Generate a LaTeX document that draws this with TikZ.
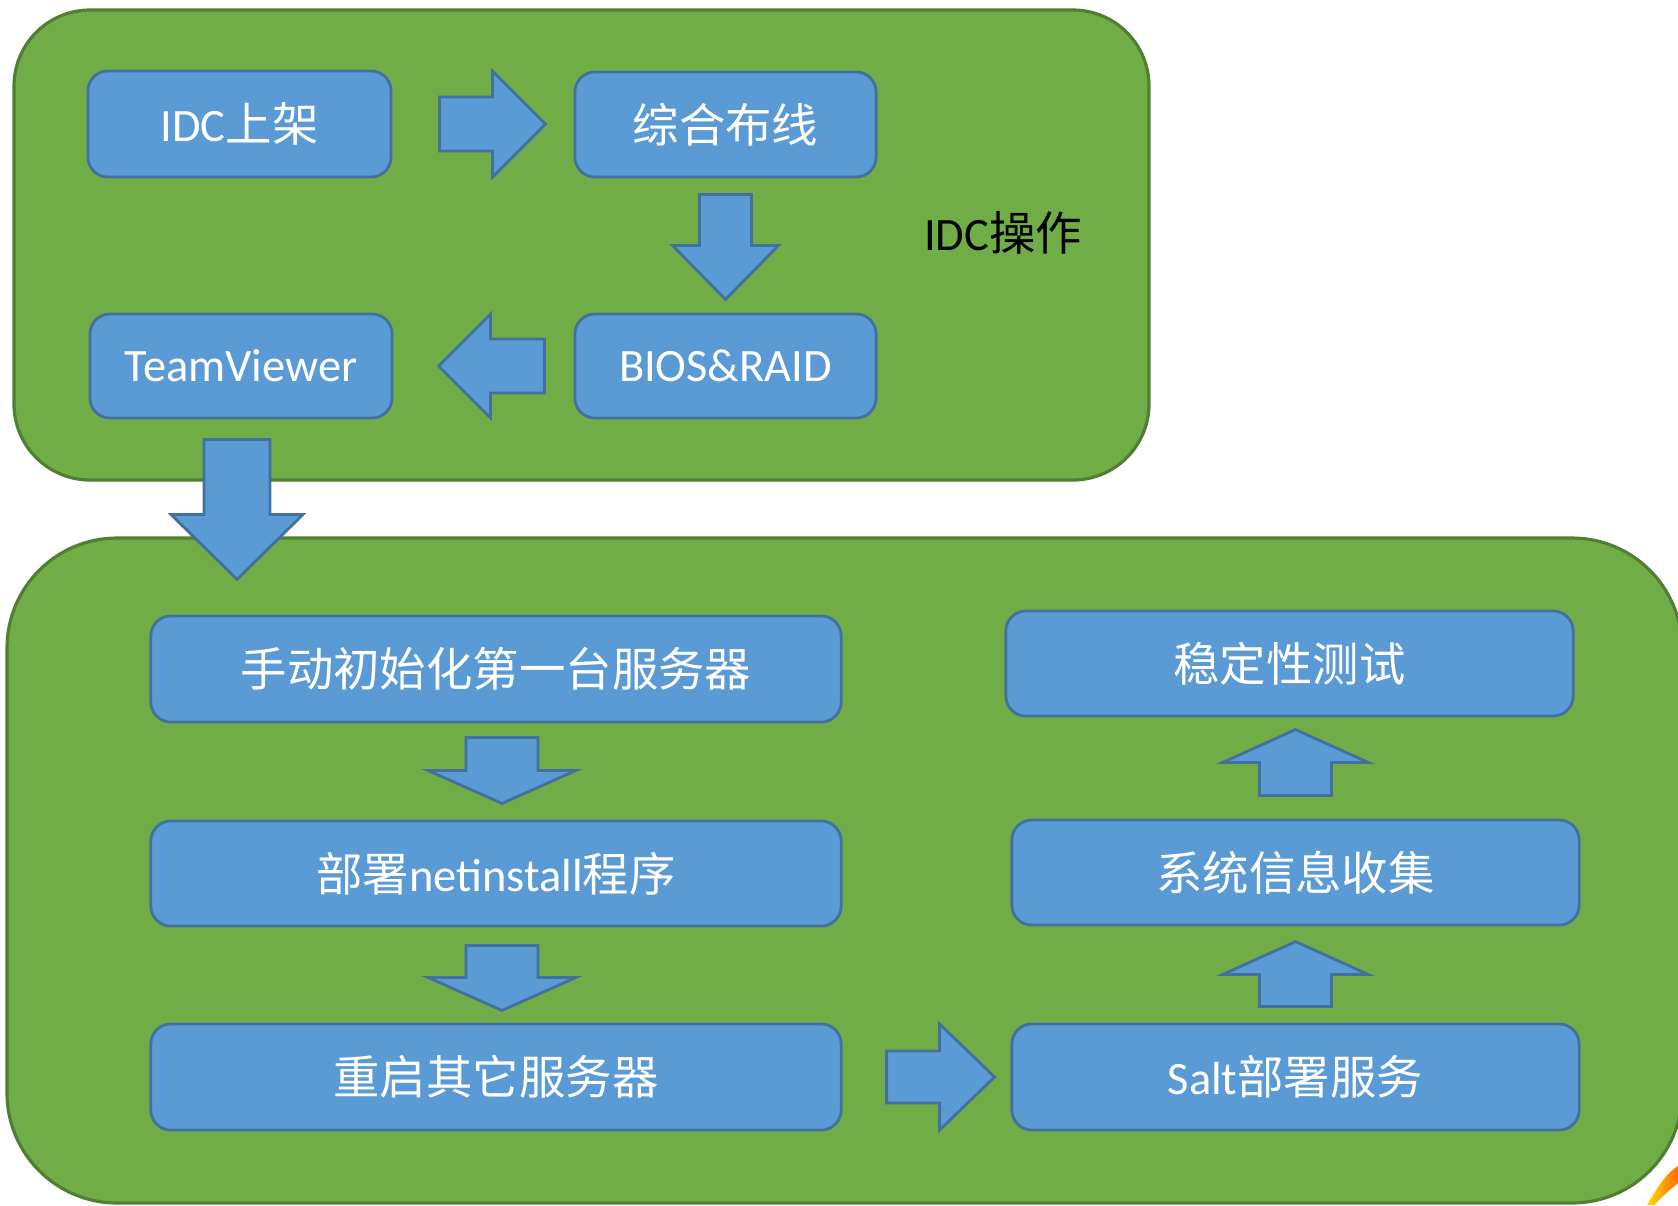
\documentclass[tikz,border=0pt]{standalone}
\usepackage{fontspec}
\setmainfont{Carlito}
\newfontfamily\cjk{Noto Sans CJK SC}
\usetikzlibrary{calc}
\definecolor{grpgreen}{HTML}{70AD47}
\definecolor{grpedge}{HTML}{507E32}
\definecolor{boxblue}{HTML}{5B9BD5}
\definecolor{boxedge}{HTML}{41719C}

\begin{document}
\begin{tikzpicture}[x=0.01cm,y=-0.01cm,
    groupbox/.style={fill=grpgreen,draw=grpedge,line width=0.9pt},
    procbox/.style={fill=boxblue,draw=boxedge,line width=0.8pt,rounded corners=0.2cm,
      text=white,font=\fontsize{13.2pt}{16pt}\selectfont,inner sep=0pt},
    blockarrow/.style={fill=boxblue,draw=boxedge,line width=0.8pt,line join=miter}]
    \useasboundingbox (0,0) rectangle (1678,1205);
    % the two groups
    \draw [groupbox,rounded corners=0.76cm] (14,10) rectangle (1149,480);
    \draw [groupbox,rounded corners=1.1cm] (7,538) rectangle (1682,1203);
    \node [font=\fontsize{13.2pt}{16pt}\selectfont] (idcop) at (1003,233) {IDC{\cjk 操作}};
    % IDC steps
    \node [procbox,minimum width=3.03cm,minimum height=1.06cm] (idc) at (239.5,124) {IDC{\cjk 上架}};
    \node [procbox,minimum width=3.01cm,minimum height=1.05cm] (zhbx) at (725.5,124.5) {{\cjk 综合布线}};
    \node [procbox,minimum width=3.01cm,minimum height=1.04cm] (bios) at (725.5,366) {BIOS\&RAID};
    \node [procbox,minimum width=3.02cm,minimum height=1.04cm] (tv) at (241,366) {TeamViewer};
    % install steps
    \node [procbox,minimum width=6.9cm,minimum height=1.06cm] (m1) at (496,669) {{\cjk 手动初始化第一台服务器}};
    \node [procbox,minimum width=6.9cm,minimum height=1.05cm] (m2) at (496,873.5) {{\cjk 部署}netinstall{\cjk 程序}};
    \node [procbox,minimum width=6.9cm,minimum height=1.06cm] (m3) at (496,1077) {{\cjk 重启其它服务器}};
    \node [procbox,minimum width=5.67cm,minimum height=1.05cm] (r1) at (1289.5,663.5) {{\cjk 稳定性测试}};
    \node [procbox,minimum width=5.67cm,minimum height=1.05cm] (r2) at (1295.5,872.5) {{\cjk 系统信息收集}};
    \node [procbox,minimum width=5.67cm,minimum height=1.06cm] (r3) at (1295.5,1077) {Salt{\cjk 部署服务}};
    % block arrows
    \draw [blockarrow] ($(idc.east)+(47,-27)$) -- ++(53,0) -- ++(0,-26) -- ++(53,53)
      -- ++(-53,53) -- ++(0,-26) -- ++(-53,0) -- cycle;
    \draw [blockarrow] ($(zhbx.south)+(-26,16)$) -- ++(0,51) -- ++(-27,0) -- ++(53,54)
      -- ++(53,-54) -- ++(-27,0) -- ++(0,-51) -- cycle;
    \draw [blockarrow] ($(bios.west)+(-29,-27)$) -- ++(-54,0) -- ++(0,-25) -- ++(-52,52)
      -- ++(52,52) -- ++(0,-25) -- ++(54,0) -- cycle;
    \draw [blockarrow] ($(tv.south)+(-37,20)$) -- ++(0,75) -- ++(-33,0) -- ++(66,65)
      -- ++(66,-65) -- ++(-33,0) -- ++(0,-75) -- cycle;
    \draw [blockarrow] ($(m1.south)+(-30,14)$) -- ++(0,33) -- ++(-38,0) -- ++(74,33)
      -- ++(74,-33) -- ++(-38,0) -- ++(0,-33) -- cycle;
    \draw [blockarrow] ($(m2.south)+(-30,18)$) -- ++(0,32) -- ++(-38,0) -- ++(74,33)
      -- ++(74,-33) -- ++(-38,0) -- ++(0,-32) -- cycle;
    \draw [blockarrow] ($(m3.east)+(44,-26)$) -- ++(53,0) -- ++(0,-27) -- ++(55,53)
      -- ++(-55,53) -- ++(0,-27) -- ++(-53,0) -- cycle;
    \draw [blockarrow] ($(r3.north)+(-36,-16)$) -- ++(0,-32) -- ++(-37,0) -- ++(73,-33)
      -- ++(73,33) -- ++(-37,0) -- ++(0,32) -- cycle;
    \draw [blockarrow] ($(r2.north)+(-36,-23)$) -- ++(0,-33) -- ++(-37,0) -- ++(73,-33)
      -- ++(73,33) -- ++(-37,0) -- ++(0,33) -- cycle;
    % cut-off mark in the corner
    \shade [left color=yellow!70!orange,right color=orange!85!red]
      (1647,1205) .. controls (1656,1190) and (1665,1174) .. (1678,1166)
      -- (1678,1183) .. controls (1668,1191) and (1660,1199) .. (1654,1205) -- cycle;
\end{tikzpicture}
\end{document}
